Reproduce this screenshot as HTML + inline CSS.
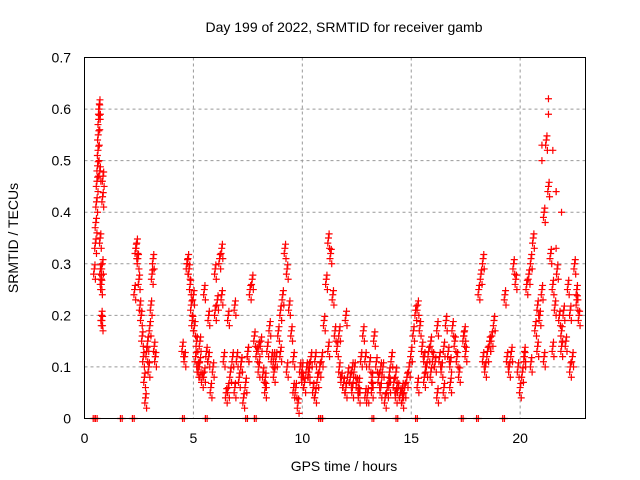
<!DOCTYPE html>
<html><head><meta charset="utf-8"><style>
body{margin:0;background:#fff;}
svg{display:block;font-family:"Liberation Sans",sans-serif;}
</style></head><body>
<svg id="chart" width="640" height="480" xmlns="http://www.w3.org/2000/svg">
<text x="344" y="32" font-size="14" text-anchor="middle">Day 199 of 2022, SRMTID for receiver gamb</text>
<text x="344" y="471" font-size="14" text-anchor="middle">GPS time / hours</text>
<text transform="translate(18,238) rotate(-90)" font-size="14" text-anchor="middle">SRMTID / TECUs</text>
<g id="grid"></g><g id="marks"></g>
<rect x="84.5" y="57.5" width="501" height="361" fill="none" stroke="#000" stroke-width="1"/>
</svg>
<script>
const xTicks=[0,5,10,15,20];
const yTicks=[0,0.1,0.2,0.3,0.4,0.5,0.6,0.7];
const yTickLabels=["0","0.1","0.2","0.3","0.4","0.5","0.6","0.7"];
const times=[0.45,0.5,0.52,0.55,0.57,0.6,0.62,0.63,0.65,0.67,0.68,0.7,0.72,0.73,0.75,0.77,0.78,0.8,0.82,0.83,0.85,
2.3,2.35,2.4,2.45,2.5,2.55,2.6,2.65,2.7,2.75,2.8,2.85,2.9,2.95,3.0,3.05,3.1,3.15,3.2,3.25,
4.5,4.6,4.7,4.75,4.8,4.85,4.9,4.95,5.0,5.05,5.1,5.15,5.2,5.25,5.3,5.4,5.5,5.6,5.7,5.8,5.9,6.0,6.1,6.2,6.3,6.4,6.5,6.6,6.7,6.8,6.9,7.0,7.1,7.2,7.3,7.4,7.5,7.6,7.7,7.8,7.9,8.0,8.1,8.2,8.3,8.4,8.5,8.6,8.7,8.8,8.9,9.0,9.1,9.2,9.3,9.4,9.5,9.6,9.7,9.8,9.9,10.0,10.1,10.2,10.3,10.4,10.5,10.6,10.7,10.8,10.9,11.0,11.1,11.2,11.3,11.4,11.5,11.6,11.7,11.8,11.9,12.0,12.1,12.2,12.3,12.4,12.5,12.6,12.7,12.8,12.9,13.0,13.1,13.2,13.3,13.4,13.5,13.6,13.7,13.8,13.9,14.0,14.1,14.2,14.3,14.4,14.5,14.6,14.7,14.8,14.9,15.0,15.1,15.2,15.3,15.4,15.5,15.6,15.7,15.8,15.9,16.0,16.1,16.2,16.3,16.4,16.5,16.6,16.7,16.8,16.9,17.0,17.1,17.2,17.4,17.45,17.5,18.1,18.2,18.3,18.4,18.5,18.6,18.7,18.8,19.3,19.4,19.5,19.6,19.7,19.8,19.9,20.0,20.1,20.2,20.3,20.4,20.5,20.6,20.7,20.8,20.9,21.0,21.1,21.2,21.3,21.4,21.5,21.6,21.7,21.8,21.9,22.0,22.1,22.2,22.3,22.4,22.5,22.6,22.7,
5.3,5.5,5.7,6.0,6.3,6.6,6.9,7.2,7.5,8.0,8.3,8.7,9.0,9.3,9.6,10.0,10.3,10.6,11.2,11.7,12.0,12.3,12.6,12.9,13.2,13.6,14.0,14.3,14.6,15.3,15.6,15.9,16.2,16.5,16.8,18.3,18.6,20.2,20.5,20.8,21.1,21.5,21.9,22.3,22.6];
const values=[0.29,0.34,0.38,0.42,0.46,0.49,0.52,0.55,0.58,0.6,0.61,0.48,0.35,0.29,0.27,0.26,0.2,0.19,0.3,0.43,0.47,
0.25,0.33,0.34,0.31,0.27,0.22,0.2,0.16,0.12,0.08,0.04,0.13,0.15,0.1,0.18,0.22,0.28,0.31,0.14,0.12,
0.14,0.12,0.3,0.31,0.29,0.26,0.22,0.19,0.24,0.18,0.12,0.15,0.1,0.1,0.11,0.08,0.09,0.13,0.12,0.06,0.1,0.21,0.23,0.31,0.33,0.12,0.05,0.06,0.09,0.12,0.06,0.12,0.08,0.11,0.04,0.07,0.13,0.25,0.27,0.16,0.13,0.14,0.15,0.09,0.06,0.14,0.18,0.12,0.12,0.12,0.17,0.21,0.24,0.33,0.29,0.22,0.17,0.12,0.06,0.03,0.1,0.08,0.07,0.1,0.09,0.12,0.06,0.05,0.08,0.1,0.12,0.19,0.27,0.35,0.32,0.24,0.17,0.14,0.1,0.08,0.07,0.06,0.09,0.08,0.06,0.1,0.07,0.05,0.12,0.17,0.12,0.05,0.11,0.08,0.16,0.11,0.08,0.06,0.1,0.04,0.06,0.09,0.12,0.07,0.05,0.06,0.05,0.04,0.06,0.08,0.1,0.13,0.17,0.21,0.22,0.18,0.14,0.12,0.1,0.13,0.15,0.12,0.11,0.18,0.12,0.1,0.14,0.19,0.13,0.11,0.18,0.15,0.12,0.09,0.16,0.17,0.13,0.25,0.28,0.31,0.1,0.13,0.15,0.16,0.19,0.24,0.12,0.1,0.13,0.3,0.27,0.1,0.06,0.09,0.12,0.26,0.28,0.31,0.35,0.18,0.22,0.2,0.25,0.4,0.54,0.45,0.32,0.26,0.22,0.29,0.2,0.17,0.21,0.15,0.26,0.21,0.12,0.3,0.23,0.2,0.15,0.25,0.2,0.29,0.24,0.2,0.22,
0.11,0.13,0.1,0.08,0.09,0.13,0.1,0.06,0.1,0.1,0.12,0.14,0.17,0.2,0.1,0.07,0.05,0.06,0.1,0.07,0.09,0.06,0.07,0.08,0.09,0.05,0.06,0.07,0.12,0.15,0.13,0.11,0.14,0.12,0.14,0.14,0.1,0.25,0.3,0.22,0.18,0.27,0.2,0.26,0.21];
const zeroTimes=[0.4,0.5,1.65,2.2,4.5,5.55,7.4,7.8,10.75,10.85,13.2,14.3,15.2,17.3,18.0,19.2];
const highTimes=[21.3,21.3,21.65,21.65,21.65,21.0,21.0,21.9,21.5];
const highValues=[0.62,0.59,0.44,0.44,0.33,0.5,0.53,0.4,0.52];
const X0=84.5,X1=585.5,Y0=418.5,Y1=57.5;
const xs=t=>X0+(X1-X0)*t/23, ys=v=>Y0-(Y0-Y1)*v/0.7;
const NS="http://www.w3.org/2000/svg";
const grid=document.getElementById('grid'),marks=document.getElementById('marks'),svg=document.getElementById('chart');
function mk(tag,attrs,parent){const e=document.createElementNS(NS,tag);for(const k in attrs)e.setAttribute(k,attrs[k]);parent.appendChild(e);return e;}
xTicks.forEach((t,i)=>{const x=xs(t);
 if(i>0){const g=mk('line',{x1:x,x2:x,y1:Y1,y2:Y0,stroke:'#999','stroke-dasharray':'3,3'},grid);
 
 }
 const l=mk('text',{x:x,y:443,'font-size':14,'text-anchor':'middle'},svg);l.textContent=t;
 
 });
yTicks.forEach((v,i)=>{const y=ys(v);
 if(i>0&&i<yTicks.length-1){const g=mk('line',{x1:X0,x2:X1,y1:y,y2:y,stroke:'#999','stroke-dasharray':'3,3'},grid);
 
 }
 const l=mk('text',{x:71,y:y+5,'font-size':14,'text-anchor':'end'},svg);l.textContent=yTickLabels[i];
 
 });
function plus(t,v){const x=xs(t),y=ys(Math.max(0,v));
 const p=mk('path',{d:`M${x-3.5},${y}h7M${x},${y-3.5}v7`,stroke:'#f00','stroke-width':1.2,fill:'none'},marks);
 
 }
times.forEach((t,i)=>{plus(t,values[i]);plus(t+0.03,values[i]+0.008);plus(t-0.03,values[i]-0.01);plus(t+0.05,values[i]-0.02);});
highTimes.forEach((t,i)=>plus(t,highValues[i]));
zeroTimes.forEach(t=>{plus(t,0);plus(t+0.08,0);});
</script>
</body></html>
